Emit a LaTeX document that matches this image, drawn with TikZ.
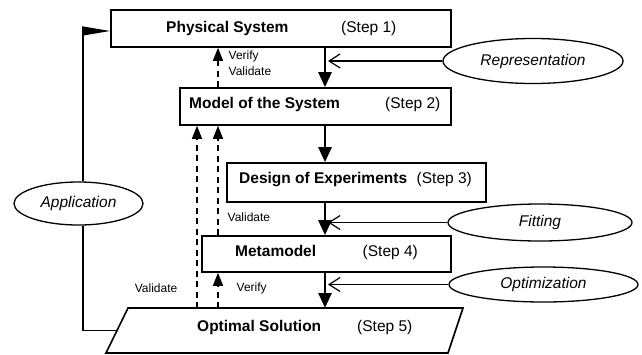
\documentclass[tikz,border=0pt]{standalone}
\usepackage{fontspec}
\setmainfont{Liberation Sans}
\usetikzlibrary{arrows.meta,shapes.geometric}

\begin{document}
\begin{tikzpicture}[x=1pt, y=-1pt,
        every node/.style={font=\fontsize{15.5}{18}\selectfont},
        stepbox/.style={draw, line width=1.6pt, inner sep=0pt},
        title/.style={anchor=base west, inner sep=0pt, font=\fontsize{15.5}{18}\selectfont\bfseries},
        stepno/.style={anchor=base west, inner sep=0pt},
        activity/.style={draw, ellipse, line width=1.3pt, inner sep=0pt, font=\fontsize{15.5}{18}\selectfont\itshape},
        note/.style={inner sep=0pt, align=left, font=\fontsize{12}{16}\selectfont},
        flow/.style={line width=2.6pt, -{Triangle[length=15pt,width=13pt]}},
        feed/.style={line width=1.2pt, -{Straight Barb[length=11pt,width=14pt,line width=1.2pt]}},
        check/.style={line width=1.4pt, dash pattern=on 6pt off 4.5pt, -{Triangle[length=13pt,width=10pt]}},
        link/.style={line width=1.6pt}]
    \useasboundingbox (0,0) rectangle (642,354);

    % steps
    \node[stepbox, minimum width=340pt, minimum height=37pt] (sys) at (281,28.5) {};
    \node[title] (sysname) at (166,32) {Physical System};
    \node[stepno] (sysstep) at (341,32) {(Step 1)};

    \node[stepbox, minimum width=271pt, minimum height=37pt] (model) at (315.5,106.5) {};
    \node[title] (modelname) at (189,108) {Model of the System};
    \node[stepno] (modelstep) at (385,108) {(Step 2)};

    \node[stepbox, minimum width=259pt, minimum height=39pt] (doe) at (356.5,182.5) {};
    \node[title] (doename) at (239,183.5) {Design of Experiments};
    \node[stepno] (doestep) at (416.5,183.5) {(Step 3)};

    \node[stepbox, minimum width=249pt, minimum height=36pt] (meta) at (326.5,254) {};
    \node[title] (metaname) at (235,256) {Metamodel};
    \node[stepno] (metastep) at (362.5,256) {(Step 4)};

    \draw[line width=1.6pt] (128,308) coordinate (optnw) -- (463,308) -- (448,353) -- (106,353) -- cycle;
    \coordinate (optw) at (117,330.5);
    \node[title] (optname) at (197,331) {Optimal Solution};
    \node[stepno] (optstep) at (357,331) {(Step 5)};

    % activities
    \node[activity, minimum width=180pt, minimum height=45pt] (rep) at (533,61) {Representation};
    \node[activity, minimum width=184pt, minimum height=37pt] (fit) at (540,222.5) {Fitting};
    \node[activity, minimum width=189pt, minimum height=35pt] (optim) at (543.5,284.5) {Optimization};
    \node[activity, minimum width=129pt, minimum height=43pt] (app) at (78.5,203.5) {Application};

    \coordinate (spine) at (325,0);
    \coordinate (tip) at (328,0);
    \coordinate (lane) at (218,0);
    \coordinate (outer) at (197,0);
    \coordinate (ret) at (83,31);

    % main flow
    \draw[flow] (sys.south -| spine) -- (model.north -| spine);
    \draw[flow] (model.south -| spine) -- (doe.north -| spine);
    \draw[flow] (doe.south -| spine) -- (meta.north -| spine);
    \draw[flow] (meta.south -| spine) -- (optnw -| spine);

    \draw[feed] (rep.west) -- (rep.west -| tip);
    \draw[feed] (fit.west) -- (fit.west -| tip);
    \draw[feed] (optim.west) -- (optim.west -| tip);

    % checks
    \draw[check] (model.north -| lane) -- node[note, pos=0.61, anchor=west, xshift=10pt] {Verify\\Validate} (sys.south -| lane);
    \draw[check] (meta.north -| lane) -- node[note, pos=0.16, anchor=west, xshift=9pt] {Validate} (model.south -| lane);
    \draw[check] (optnw -| lane) -- node[note, pos=0.55, anchor=west, xshift=18pt] {Verify} (meta.south -| lane);
    \draw[check] (optnw -| outer) -- node[note, pos=0.11, anchor=east, xshift=-19pt] {Validate} (model.south -| outer);

    % application loop
    \draw[link] (optw) -- (optw -| ret) -- (app.south -| ret);
    \draw[link, -{Triangle[length=28pt,width=9pt]}] (app.north -| ret) -- (ret) -- (ret -| sys.west);
\end{tikzpicture}
\end{document}
